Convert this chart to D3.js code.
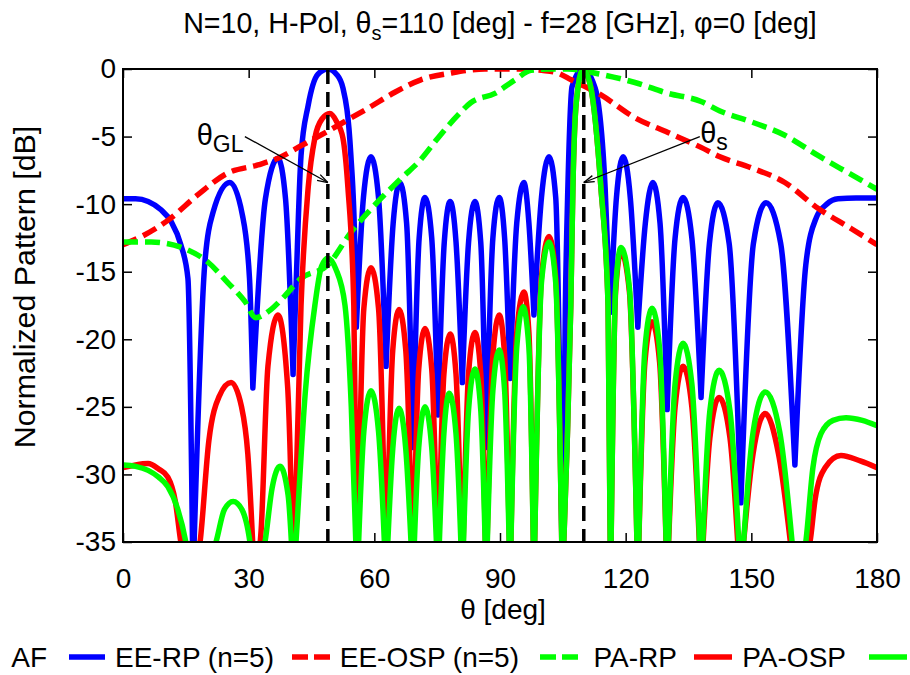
<!DOCTYPE html>
<html><head><meta charset="utf-8">
<script src="https://cdn.jsdelivr.net/npm/d3@7"></script>
<style>
body{margin:0;background:#fff}
svg{display:block}
text{font-family:"Liberation Sans",Arial,Helvetica,sans-serif;fill:#000}
</style>
</head><body>
<svg id="chart" width="910" height="675"></svg>
<script>
// ---------------- data ----------------
const xTicks = [0, 30, 60, 90, 120, 150, 180];
const yTicks = [0, -5, -10, -15, -20, -25, -30, -35];
const seriesNames = ["AF", "EE-RP (n=5)", "EE-OSP (n=5)", "PA-RP", "PA-OSP"];
const titleParts = ["N=10, H-Pol, \u03b8", "s", "=110 [deg] - f=28 [GHz], \u03c6=0 [deg]"];
const xLabel = "\u03b8 [deg]";
const yLabel = "Normalized Pattern [dB]";
const markerAngles = [48.9, 110];          // theta_GL, theta_s
const markerLabels = [["\u03b8", "GL"], ["\u03b8", "s"]];

// AF (blue)
const afData = [
 [0,-9.6],[3,-9.6],[6,-9.8],[9,-10.4],[11.5,-11.3],[13.8,-13.0],[15.5,-15.5],[16.7,-38],
 [19.5,-14.5],[21.5,-10.6],[25.5,-8.4],[28.5,-10.8],[30.2,-15.5],[31.0,-23.6],
 [34.0,-9.6],[37.0,-6.6],[38.8,-9.6],[40.6,-22.6],
 [41.3,-16.2],[42.5,-6.4],[44.2,-2.7],[46.5,-0.4],[48.9,0],[51.0,-0.4],[52.5,-1.4],[54.4,-6.4],[55.4,-13.8],[55.7,-19.1],
 [57.4,-9.5],[59.2,-6.5],[61.0,-9.5],[62.8,-22.0],
 [64.5,-11.4],[66.1,-8.4],[67.7,-11.4],[69.2,-28.0],
 [70.7,-12.5],[72.1,-9.5],[73.7,-12.5],[75.2,-25.6],
 [76.7,-12.8],[78.1,-9.8],[79.5,-12.8],[81.0,-23.2],
 [82.5,-12.8],[84.0,-9.8],[85.4,-12.8],[86.7,-28.0],
 [88.3,-12.5],[89.8,-9.5],[91.1,-12.5],[92.4,-22.9],
 [94.0,-11.4],[95.7,-8.4],[96.9,-11.4],[98.1,-18.2],
 [99.9,-9.5],[101.7,-6.5],[103.3,-9.5],[104.9,-38],
 [105.6,-17.5],[106.2,-8.8],[107.2,-1.3],[109.8,0],[112.7,-1.4],[115.1,-8.8],[116.3,-18.0],
 [117.8,-9.5],[119.4,-6.5],[121.1,-9.5],[122.9,-19.1],
 [124.7,-11.4],[126.5,-8.4],[128.2,-11.4],[129.9,-25.2],
 [131.8,-12.5],[133.7,-9.5],[135.8,-12.5],[138.0,-24.3],
 [140.0,-12.9],[142.0,-9.9],[144.7,-12.9],[147.5,-32.1],
 [150.5,-12.9],[153.5,-9.9],[157.0,-12.9],[160.4,-29.3],
 [163.0,-14.5],[165.5,-11.0],[168.0,-10.0],[170.7,-9.6],[175.0,-9.55],[180,-9.55]
];

// EE-RP (red dashed)
const eeRpData = [
 [0,-13.0],[5,-12.3],[10.7,-11.2],[17.9,-9.3],[25,-7.7],[32.2,-7.1],[37,-6.6],[43,-5.6],
 [48.9,-4.6],[54,-3.7],[58.5,-2.9],[65,-1.7],[71.1,-0.8],[78.3,-0.3],[86.4,0],[90,0],[95,0],
 [100,-0.1],[103.8,-0.3],[107,-0.8],[114,-1.9],[122.2,-3.6],[130.1,-4.7],[138,-5.8],[142.5,-6.5],
 [149.9,-7.3],[158,-8.4],[165.9,-10.3],[173.8,-11.8],[180,-13.0]
];

// EE-OSP (green dashed)
const eeOspData = [
 [0,-12.8],[6.7,-12.8],[14.8,-13.3],[20.3,-14.3],[25,-15.8],[29.1,-17.2],[31.7,-18.4],[35.3,-17.8],
 [38,-17.0],[42.5,-15.5],[48.9,-14.5],[54.4,-12.1],[60.9,-9.8],[66.4,-8.1],[70.8,-6.8],[75.2,-5.1],
 [80,-3.4],[83,-2.5],[88.8,-1.8],[93.6,-0.8],[97.4,-0.1],[102.2,0],[106.2,0],[114.1,-0.4],
 [122.2,-1.0],[130.1,-1.8],[138,-2.4],[142.5,-3.1],[149.9,-3.9],[158,-4.9],[165.9,-6.4],
 [173.8,-7.8],[180,-8.9]
];

// PA-RP (red solid)
const paRpData = [
 [0,-29.5],[3,-29.3],[6,-29.2],[8.5,-29.6],[10.7,-30.2],[12.5,-32.0],[13.8,-35.0],[16.3,-38],
 [18.4,-35.0],[20.5,-27.5],[23.0,-24.2],[25.8,-23.2],[28.3,-25.0],[29.8,-28.5],[31.4,-38],
 [33.0,-34.0],[34.6,-22.0],[37.0,-18.2],[39.3,-23.5],[40.7,-38],
 [42.5,-17.5],[44.2,-8.8],[45.8,-5.1],[47.5,-3.7],[49.4,-3.3],[51.0,-3.9],[52.5,-5.1],[53.7,-8.8],[55.1,-17.5],[55.9,-38],
 [57.5,-17.7],[59.2,-14.7],[61.0,-17.7],[62.8,-38],
 [64.4,-20.8],[65.9,-17.8],[67.5,-20.8],[69.2,-38],
 [70.6,-22.2],[72.1,-19.2],[73.7,-22.2],[75.2,-38],
 [76.6,-22.6],[78.1,-19.6],[79.5,-22.6],[81.0,-38],
 [82.5,-22.5],[84.0,-19.5],[85.4,-22.5],[86.7,-38],
 [88.3,-21.2],[89.8,-18.2],[91.1,-21.2],[92.4,-38],
 [94.0,-19.5],[95.7,-16.5],[96.9,-19.5],[98.1,-38],
 [99.9,-15.4],[101.7,-12.4],[103.3,-15.4],[104.9,-38],
 [106.0,-28.0],[106.9,-17.5],[107.4,-8.8],[108.2,-2.5],[109.8,0],[111.7,-1.4],[114.1,-8.8],[115.8,-17.5],[116.4,-38],
 [117.6,-16.5],[118.9,-13.5],[120.9,-16.5],[122.9,-38],
 [124.6,-21.7],[126.3,-18.7],[128.1,-21.7],[129.9,-38],
 [131.8,-25.0],[133.7,-22.0],[135.8,-25.0],[138.0,-38],
 [140.1,-27.3],[142.3,-24.3],[144.9,-27.3],[147.3,-38],
 [150.4,-28.5],[153.3,-25.5],[156.5,-28.5],[160.4,-38],
 [164.0,-35.0],[165.2,-31.9],[167.6,-29.5],[171.4,-28.6],[176.0,-29.0],[180,-29.5]
];

// PA-OSP (green solid)
const paOspData = [
 [0,-29.3],[3,-29.4],[6,-29.7],[8.5,-30.2],[10.7,-30.9],[13.0,-32.5],[15.0,-35.0],[16.5,-38],
 [22.2,-35.0],[24.2,-32.6],[26.3,-32.0],[28.4,-32.6],[30.3,-35.0],[31.4,-38],
 [33.9,-35.0],[35.6,-31.0],[37.5,-29.4],[39.4,-31.5],[40.7,-38],
 [41.3,-35.0],[43.5,-24.0],[45.8,-17.5],[47.4,-14.6],[48.9,-14.0],[50.8,-14.8],[53.0,-17.5],[54.5,-25.0],[55.9,-38],
 [57.5,-26.8],[59.2,-23.8],[61.0,-26.8],[62.8,-38],
 [64.4,-28.1],[65.9,-25.1],[67.5,-28.1],[69.2,-38],
 [70.6,-28.0],[72.1,-25.0],[73.7,-28.0],[75.2,-38],
 [76.6,-27.0],[77.9,-24.0],[79.5,-27.0],[81.0,-38],
 [82.5,-25.2],[84.0,-22.2],[85.4,-25.2],[86.7,-38],
 [88.3,-23.8],[89.8,-20.8],[91.1,-23.8],[92.4,-38],
 [94.0,-20.6],[95.5,-17.6],[96.9,-20.6],[98.1,-38],
 [99.9,-15.8],[101.7,-12.8],[103.3,-15.8],[104.9,-38],
 [106.0,-28.0],[106.9,-17.5],[107.4,-8.8],[108.2,-2.5],[109.8,0],[111.7,-1.4],[114.1,-8.8],[115.8,-17.5],[116.4,-38],
 [117.6,-16.2],[118.9,-13.2],[120.9,-16.2],[122.9,-38],
 [124.6,-20.7],[126.3,-17.7],[128.1,-20.7],[129.9,-38],
 [131.8,-23.3],[133.7,-20.3],[135.8,-23.3],[138.0,-38],
 [140.1,-25.3],[142.3,-22.3],[144.9,-25.3],[147.5,-38],
 [150.4,-26.9],[153.3,-23.9],[156.8,-26.9],[160.6,-38],
 [163.0,-35.0],[164.7,-29.5],[166.6,-27.0],[169.5,-26.0],[172.6,-25.8],[176.5,-26.0],[180,-26.4]
];

// ---------------- layout ----------------
const W = 910, H = 675;
const P = {l: 123, r: 877, t: 69, b: 542};
const FS = 28;
const LW = 5.5;
const svg = d3.select("#chart");
svg.append("rect").attr("width", W).attr("height", H).attr("fill", "#fff");

const x = d3.scaleLinear().domain([0, 180]).range([P.l, P.r]);
const y = d3.scaleLinear().domain([-35, 0]).range([P.b, P.t]);

svg.append("defs").append("clipPath").attr("id", "plotclip")
  .append("rect").attr("x", P.l).attr("y", P.t).attr("width", P.r - P.l).attr("height", P.b - P.t);

// axes (ticks inward, mirrored)
function styleAxis(g) {
  g.select(".domain").remove();
  g.selectAll(".tick line").attr("stroke", "#000").attr("stroke-width", 1.5);
  g.selectAll("text").attr("font-size", FS).attr("fill", "#000")
    .attr("font-family", "'Liberation Sans',Arial,Helvetica,sans-serif");
}
svg.append("g").attr("transform", `translate(0,${P.b})`)
  .call(d3.axisBottom(x).tickValues(xTicks).tickSizeInner(-9).tickSizeOuter(0).tickPadding(26).tickFormat(d => String(d)))
  .call(styleAxis);
svg.append("g").attr("transform", `translate(0,${P.t})`)
  .call(d3.axisTop(x).tickValues(xTicks).tickSizeInner(-9).tickSizeOuter(0).tickFormat(""))
  .call(styleAxis);
svg.append("g").attr("transform", `translate(${P.l},0)`)
  .call(d3.axisLeft(y).tickValues(yTicks).tickSizeInner(-9).tickSizeOuter(0).tickPadding(7).tickFormat(d => String(d)))
  .call(styleAxis);
svg.append("g").attr("transform", `translate(${P.r},0)`)
  .call(d3.axisRight(y).tickValues(yTicks).tickSizeInner(-9).tickSizeOuter(0).tickFormat(""))
  .call(styleAxis);

// curves
const lineGen = d3.line().x(d => x(d[0])).y(d => y(d[1])).curve(d3.curveMonotoneX);
function splitAtNulls(d) {
  const segs = []; let cur = [d[0]];
  for (let i = 1; i < d.length; i++) {
    cur.push(d[i]);
    if (i < d.length - 1 && d[i][1] < d[i - 1][1] && d[i][1] < d[i + 1][1]) {
      segs.push(cur); cur = [d[i]];
    }
  }
  segs.push(cur);
  return segs;
}
const series = [
  {data: afData, color: "#0000ff", dash: null, lobed: true},
  {data: eeRpData, color: "#ff0000", dash: "15,7", lobed: false},
  {data: eeOspData, color: "#00ff00", dash: "15,7", lobed: false},
  {data: paRpData, color: "#ff0000", dash: null, lobed: true},
  {data: paOspData, color: "#00ff00", dash: null, lobed: true}
];
const plot = svg.append("g").attr("clip-path", "url(#plotclip)");
series.forEach(s => {
  const dStr = s.lobed ? splitAtNulls(s.data).map(seg => lineGen(seg)).join("") : lineGen(s.data);
  plot.append("path").attr("d", dStr).attr("fill", "none")
    .attr("stroke", s.color).attr("stroke-width", LW)
    .attr("stroke-linejoin", "round")
    .attr("stroke-linecap", s.dash ? "butt" : "round")
    .attr("stroke-dasharray", s.dash);
});

// marker lines
markerAngles.forEach(a => {
  plot.append("line").attr("x1", x(a)).attr("x2", x(a)).attr("y1", y(0)).attr("y2", y(-35))
    .attr("stroke", "#000").attr("stroke-width", 3.5).attr("stroke-dasharray", "15,8");
});

// frame
svg.append("rect").attr("x", P.l).attr("y", P.t).attr("width", P.r - P.l).attr("height", P.b - P.t)
  .attr("fill", "none").attr("stroke", "#000").attr("stroke-width", 2);

// arrows + labels
const arrowFrom = [[29.1, -5.0], [137.7, -5.0]];
const arrowTip = -8.4;
const labelAt = [[17.6, -5.6], [137.8, -5.5]];
function arrow(x1, y1, x2, y2) {
  svg.append("line").attr("x1", x1).attr("y1", y1).attr("x2", x2).attr("y2", y2)
    .attr("stroke", "#000").attr("stroke-width", 1.3);
  const ang = Math.atan2(y2 - y1, x2 - x1), L = 11, sp = 0.3;
  [ang + Math.PI - sp, ang + Math.PI + sp].forEach(a => {
    svg.append("line").attr("x1", x2).attr("y1", y2)
      .attr("x2", x2 + L * Math.cos(a)).attr("y2", y2 + L * Math.sin(a))
      .attr("stroke", "#000").attr("stroke-width", 1.3);
  });
}
markerAngles.forEach((a, i) => {
  arrow(x(arrowFrom[i][0]), y(arrowFrom[i][1]), x(a), y(arrowTip));
  const t = svg.append("text").attr("x", x(labelAt[i][0])).attr("y", y(labelAt[i][1])).attr("font-size", 29);
  t.append("tspan").text(markerLabels[i][0]);
  t.append("tspan").attr("dy", 7).attr("font-size", 23).text(markerLabels[i][1]);
});

// title
const tt = svg.append("text").attr("x", (P.l + P.r) / 2).attr("y", 33).attr("text-anchor", "middle").attr("font-size", 28.6);
tt.append("tspan").text(titleParts[0]);
tt.append("tspan").attr("dy", 7).attr("font-size", 20).text(titleParts[1]);
tt.append("tspan").attr("dy", -7).text(titleParts[2]);

// axis labels
svg.append("text").attr("x", (P.l + P.r) / 2 + 3).attr("y", 619).attr("text-anchor", "middle").attr("font-size", FS).text(xLabel);
svg.append("text").attr("transform", "translate(35,287) rotate(-90)").attr("text-anchor", "middle").attr("font-size", 30.4).text(yLabel);

// legend
const legTextRight = [47, 274, 519, 677, 846];
const legSample = [[69, 105], [292, 330], [540, 578], [694, 732], [869, 907]];
const legY = 657;
series.forEach((s, i) => {
  svg.append("text").attr("x", legTextRight[i]).attr("y", legY + 10).attr("text-anchor", "end").attr("font-size", FS).text(seriesNames[i]);
  svg.append("line").attr("x1", legSample[i][0]).attr("x2", legSample[i][1]).attr("y1", legY).attr("y2", legY)
    .attr("stroke", s.color).attr("stroke-width", LW).attr("stroke-dasharray", s.dash ? "16,6" : null);
});
</script>
</body></html>
